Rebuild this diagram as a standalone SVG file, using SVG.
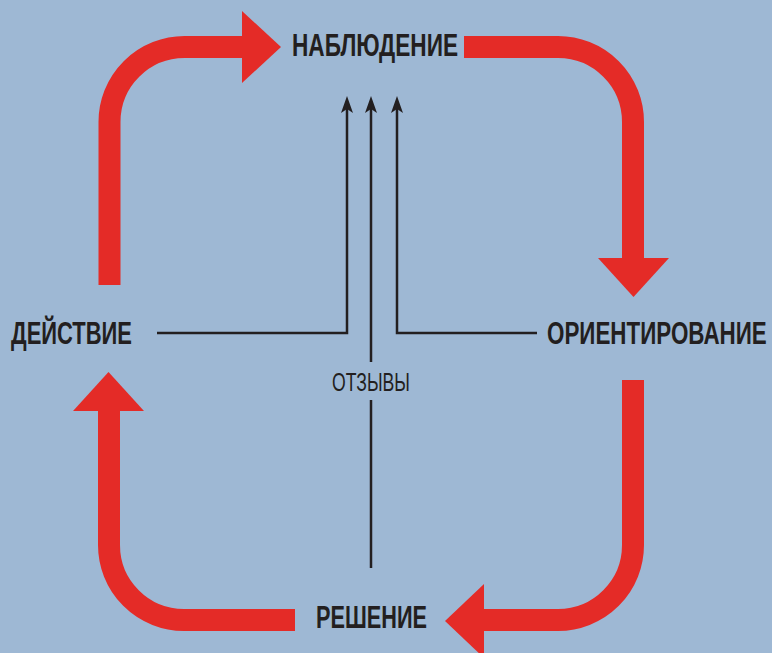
<svg xmlns="http://www.w3.org/2000/svg" width="772" height="653" viewBox="0 0 772 653">
<defs>
<style>
.band{fill:none;stroke:#e42b27;stroke-width:22;stroke-linecap:butt}
.head{fill:#e42b27}
.conn{fill:none;stroke:#231f20;stroke-width:2.5;marker-end:url(#ah)}
.plain{fill:none;stroke:#231f20;stroke-width:2.5}
.lbl{font-family:"Liberation Sans",Arial,sans-serif;font-weight:bold;font-size:31px;fill:#231f20}
.small{font-family:"Liberation Sans",Arial,sans-serif;font-size:25px;fill:#231f20}
</style>
<marker id="ah" markerUnits="userSpaceOnUse" markerWidth="20" markerHeight="14" viewBox="0 -7 18 14" refX="5" refY="0" orient="auto">
<path d="M17,0 L0,-6 L4,0 L0,6 Z" fill="#231f20"/>
</marker>
</defs>
<rect width="772" height="653" fill="#9eb8d4"/>
<g id="cycle">
<path class="band" d="M109.5,285 V122 A75,75 0 0 1 184.5,47 H243"/>
<polygon class="head" points="242,11 281,47 242,83"/>
<path class="band" d="M464,47 H558 A75,75 0 0 1 633,122 V259"/>
<polygon class="head" points="598,258 669,258 633.5,297"/>
<path class="band" d="M633,380 V545 A75,75 0 0 1 558,620 H482"/>
<polygon class="head" points="484,584 445,621 484,658"/>
<path class="band" d="M295,620 H184 A75,75 0 0 1 109,545 V410"/>
<polygon class="head" points="73,411 108.5,372 144,411"/>
</g>
<g id="connectors">
<path class="conn" d="M157,333 H347 V108"/>
<path class="conn" d="M371,362 V108"/>
<path class="plain" d="M371,400 V568"/>
<path class="conn" d="M537,333 H397 V108"/>
</g>
<g id="observation"><text class="lbl" x="292" y="56" textLength="166" lengthAdjust="spacingAndGlyphs">НАБЛЮДЕНИЕ</text></g>
<g id="action"><text class="lbl" x="11" y="344" textLength="121" lengthAdjust="spacingAndGlyphs">ДЕЙСТВИЕ</text></g>
<g id="orientation"><text class="lbl" transform="scale(0.7,1)" x="781.43" y="344" textLength="314" lengthAdjust="spacingAndGlyphs">ОРИЕНТИРОВАНИЕ</text></g>
<g id="decision"><text class="lbl" x="316" y="628" textLength="111" lengthAdjust="spacingAndGlyphs">РЕШЕНИЕ</text></g>
<g id="feedback"><text class="small" x="332" y="391" textLength="78" lengthAdjust="spacingAndGlyphs">ОТЗЫВЫ</text></g>
</svg>
